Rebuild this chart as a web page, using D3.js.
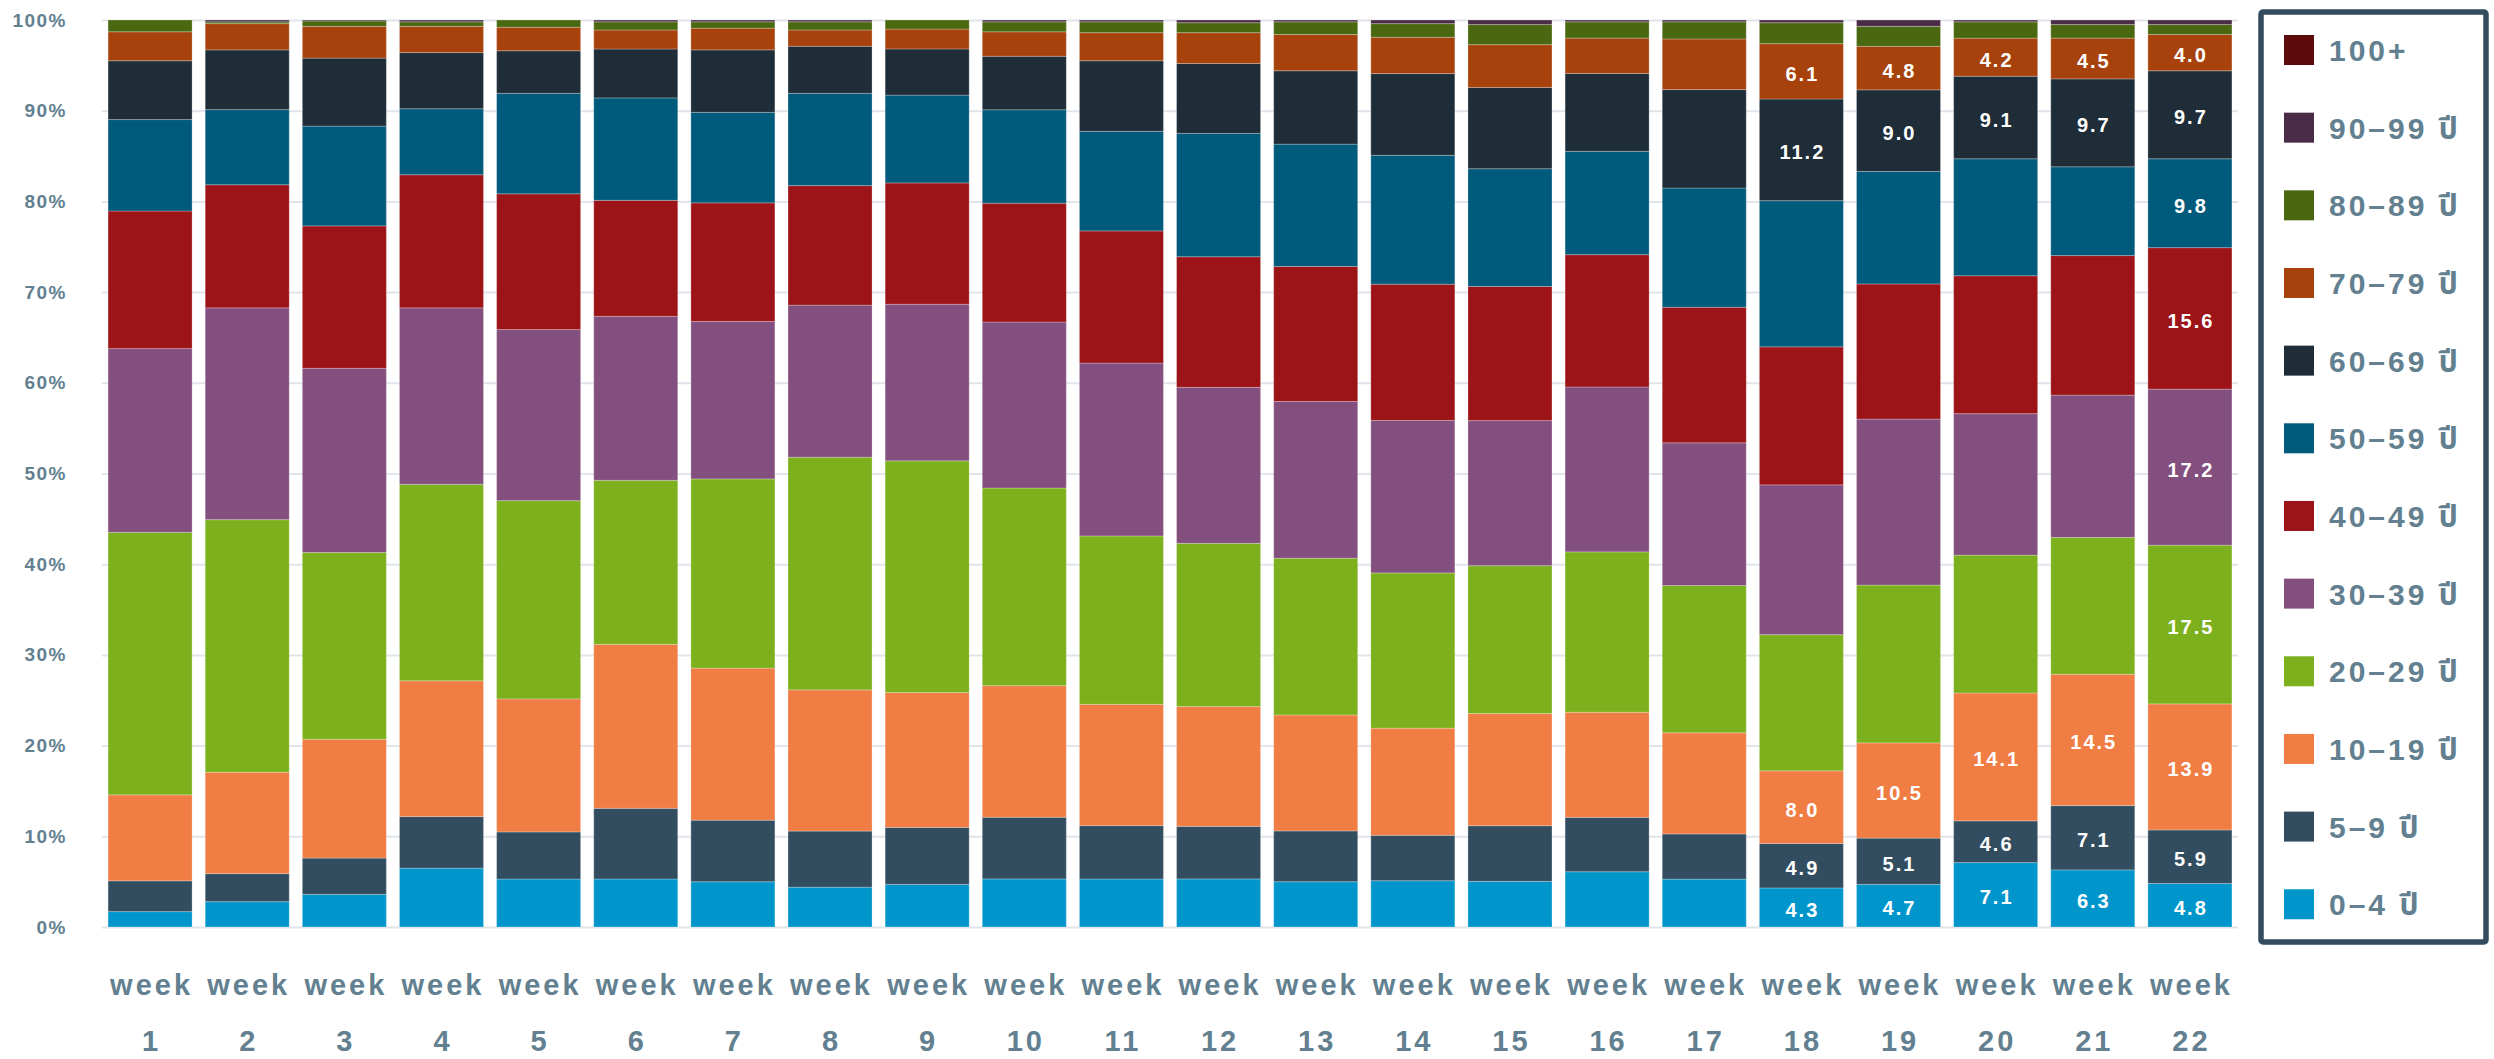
<!DOCTYPE html>
<html>
<head>
<meta charset="utf-8">
<script src="https://cdn.jsdelivr.net/npm/d3@7"></script>
<style>
  body { margin: 0; background: #fff; }
  svg { display: block; font-family: "Liberation Sans", Arial, Helvetica, "Noto Sans Thai", "Tlwg Typo", "Loma", sans-serif; }
</style>
</head>
<body>
<svg id="chart" width="2494" height="1059"></svg>
<script>
// week labels on the x axis
const weeks = ['1','2','3','4','5','6','7','8','9','10','11','12','13','14','15','16','17','18','19','20','21','22'];

// age groups, bottom of the stack first
const groups = ['0–4 ปี','5–9 ปี','10–19 ปี','20–29 ปี','30–39 ปี','40–49 ปี','50–59 ปี','60–69 ปี','70–79 ปี','80–89 ปี','90–99 ปี','100+'];
const colors = ['#0096cc','#334d60','#f07d44','#7cb01c','#834f7e','#9c1318','#005a7b','#1f2d38','#a8420c','#4a6810','#4b2c48','#5e0b0c'];

// share of cases (%) per week, one array per age group
const age0_4   = [1.7,2.8,3.6,6.5,5.3,5.3,5.0,4.4,4.7,5.3,5.3,5.3,5.0,5.1,5.0,6.1,5.3,4.3,4.7,7.1,6.3,4.8];
const age5_9   = [3.4,3.1,4.0,5.7,5.2,7.8,6.8,6.2,6.3,6.8,5.9,5.8,5.6,5.0,6.1,6.0,5.0,4.9,5.1,4.6,7.1,5.9];
const age10_19 = [9.5,11.2,13.1,15.0,14.7,18.1,16.8,15.6,14.9,14.5,13.4,13.2,12.8,11.8,12.3,11.6,11.2,8.0,10.5,14.1,14.5,13.9];
const age20_29 = [29.0,27.9,20.6,21.7,21.9,18.1,20.9,25.7,25.6,21.8,18.6,18.0,17.3,17.1,16.2,17.7,16.3,15.0,17.4,15.2,15.1,17.5];
const age30_39 = [20.3,23.4,20.3,19.5,18.9,18.1,17.4,16.8,17.3,18.3,19.1,17.2,17.3,16.8,15.9,18.2,15.8,16.5,18.3,15.6,15.7,17.2];
const age40_49 = [15.2,13.6,15.7,14.7,15.0,12.8,13.1,13.2,13.4,13.1,14.6,14.4,14.9,15.0,14.7,14.6,15.0,15.2,14.9,15.2,15.4,15.6];
const age50_59 = [10.1,8.3,11.0,7.3,11.1,11.3,10.0,10.2,9.7,10.3,11.0,13.6,13.5,14.2,12.9,11.4,13.2,16.1,12.4,12.9,9.8,9.8];
const age60_69 = [6.5,6.6,7.5,6.2,4.7,5.4,6.9,5.2,5.1,5.9,7.8,7.7,8.1,9.0,8.9,8.6,10.9,11.2,9.0,9.1,9.7,9.7];
const age70_79 = [3.2,2.9,3.5,2.9,2.6,2.1,2.4,1.8,2.2,2.7,3.1,3.4,4.0,4.0,4.7,3.9,5.6,6.1,4.8,4.2,4.5,4.0];
const age80_89 = [1.3,0.2,0.6,0.5,0.8,0.9,0.7,0.9,1.0,1.1,1.2,1.1,1.4,1.5,2.2,1.8,1.9,2.3,2.2,1.8,1.5,1.1];
const age90_99 = [0,0.2,0.1,0.2,0,0.2,0.2,0.2,0,0.2,0.2,0.3,0.2,0.4,0.5,0.2,0.2,0.3,0.7,0.2,0.5,0.5];
const age100   = [0,0,0,0,0,0,0,0,0,0,0,0,0,0,0,0,0,0,0,0,0,0];

// which segments carry a value label (week -> group indexes)
const labelled = {
  '18': [0,1,2,7,8],
  '19': [0,1,2,7,8],
  '20': [0,1,2,7,8],
  '21': [0,1,2,7,8],
  '22': [0,1,2,3,4,5,6,7,8]
};

const series = [age0_4, age5_9, age10_19, age20_29, age30_39, age40_49, age50_59, age60_69, age70_79, age80_89, age90_99, age100];
const table = weeks.map((w, i) => {
  const row = {week: w};
  groups.forEach((g, j) => { row[g] = series[j][i]; });
  return row;
});

const textColor = '#62808f';
const svg = d3.select('#chart');

const x = d3.scaleBand().domain(weeks).range([102, 2238]).paddingInner(0.135).paddingOuter(0.0625);
const y = d3.scaleLinear().domain([0, 1]).range([927, 20]);
const color = d3.scaleOrdinal().domain(groups).range(colors);

const stacked = d3.stack().keys(groups).offset(d3.stackOffsetExpand)(table);

// grid + y labels
svg.append('g')
  .attr('transform', 'translate(102,0)')
  .call(d3.axisLeft(y).ticks(10).tickFormat(d3.format('.0%')).tickSize(-(2238 - 102)).tickPadding(35))
  .call(g => g.select('.domain').remove())
  .call(g => g.selectAll('.tick line').attr('stroke', '#dfe5ea').attr('stroke-width', 2))
  .call(g => g.selectAll('.tick text')
    .attr('fill', textColor)
    .attr('font-size', 19)
    .attr('font-weight', 'bold')
    .attr('letter-spacing', '1.5px')
    .attr('font-family', '"Liberation Sans", Arial, sans-serif'));

// bars
const layer = svg.append('g').selectAll('g')
  .data(stacked)
  .join('g')
    .attr('fill', d => color(d.key));

layer.selectAll('rect')
  .data(d => d)
  .join('rect')
    .attr('x', d => x(d.data.week))
    .attr('y', d => y(d[1]))
    .attr('width', x.bandwidth())
    .attr('height', d => Math.max(0, y(d[0]) - y(d[1])))
    .attr('stroke', 'rgba(255,255,255,0.25)')
    .attr('stroke-width', 1);

// value labels
const labels = [];
stacked.forEach((s, j) => {
  s.forEach(d => {
    const wk = d.data.week;
    if (labelled[wk] && labelled[wk].includes(j)) {
      labels.push({week: wk, value: d.data[s.key], y0: d[0], y1: d[1]});
    }
  });
});

svg.append('g').selectAll('text')
  .data(labels)
  .join('text')
    .attr('x', d => x(d.week) + x.bandwidth() / 2 + 1)
    .attr('y', d => (y(d.y0) + y(d.y1)) / 2 + 9.5)
    .attr('text-anchor', 'middle')
    .attr('fill', '#fff')
    .attr('font-size', 20)
    .attr('font-weight', 'bold')
    .attr('letter-spacing', '2px')
    .text(d => d3.format('.1f')(d.value));

// x labels: "week" over the number
const xg = svg.append('g').attr('transform', 'translate(0,927)');
xg.call(d3.axisBottom(x).tickSize(0))
  .call(g => g.select('.domain').remove())
  .call(g => g.selectAll('.tick text').remove());

xg.selectAll('.tick').each(function(w) {
  const t = d3.select(this).append('text')
    .attr('fill', textColor)
    .attr('font-size', 29)
    .attr('font-weight', 'bold')
    .attr('letter-spacing', '3px')
    .attr('text-anchor', 'middle')
    .attr('font-family', '"Liberation Sans", Arial, sans-serif');
  t.append('tspan').attr('x', 1.5).attr('y', 68).text('week');
  t.append('tspan').attr('x', 1.5).attr('y', 124).text(w);
});

// legend
svg.append('rect')
  .attr('x', 2261).attr('y', 12)
  .attr('width', 225).attr('height', 930)
  .attr('rx', 2)
  .attr('fill', 'none')
  .attr('stroke', '#324b5e')
  .attr('stroke-width', 5.5);

const legend = svg.append('g').selectAll('g')
  .data(groups.slice().reverse())
  .join('g')
    .attr('transform', (d, i) => `translate(2284,${50 + i * 77.66})`);

legend.append('rect')
  .attr('y', -15)
  .attr('width', 30).attr('height', 30)
  .attr('fill', d => color(d));

legend.append('text')
  .attr('x', 45)
  .attr('y', 11)
  .attr('fill', textColor)
  .attr('font-size', 30)
  .attr('font-weight', 'bold')
  .attr('letter-spacing', '3px')
  .text(d => d);
</script>
</body>
</html>
